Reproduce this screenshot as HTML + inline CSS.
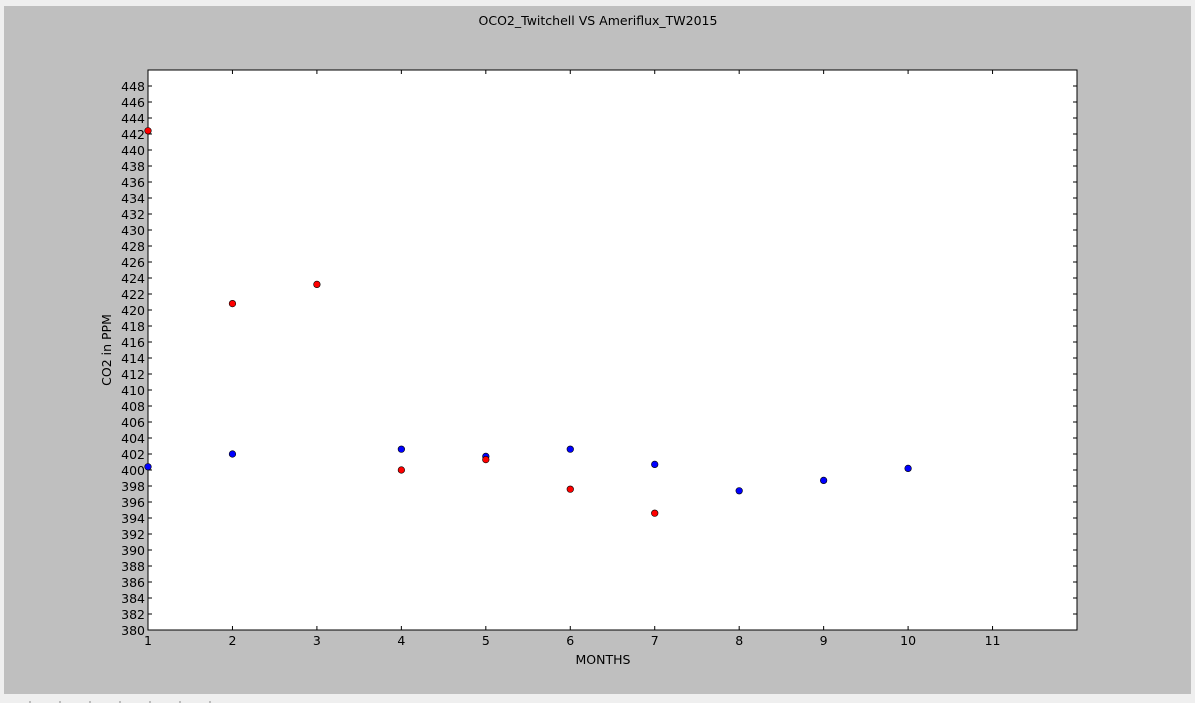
<!DOCTYPE html>
<html><head><meta charset="utf-8"><style>
body{margin:0;background:#efefef;width:1195px;height:703px;overflow:hidden;font-family:"DejaVu Sans","Liberation Sans",sans-serif}
svg{position:absolute;left:0;top:0}
</style></head><body>
<svg id="c" width="1195" height="703" font-family="DejaVu Sans, Liberation Sans, sans-serif">
<rect x="4" y="6" width="1187" height="688" fill="#bfbfbf"/>
<g stroke="#888">
<line x1="30" x2="30" y1="701" y2="703"/><line x1="60" x2="60" y1="701" y2="703"/><line x1="90" x2="90" y1="701" y2="703"/><line x1="120" x2="120" y1="701" y2="703"/><line x1="150" x2="150" y1="701" y2="703"/><line x1="180" x2="180" y1="701" y2="703"/><line x1="210" x2="210" y1="701" y2="703"/>
</g>
<rect x="148" y="70" width="929" height="560" fill="#fff" stroke="#000" stroke-width="1"/>
<text x="598" y="25" text-anchor="middle" font-size="12.5">OCO2_Twitchell VS Ameriflux_TW2015</text>
<text x="603" y="664" text-anchor="middle" font-size="12.5">MONTHS</text>
<text transform="translate(111,350) rotate(-90)" text-anchor="middle" font-size="12.5">CO2 in PPM</text>
<g id="ticks"></g><g id="pts"></g>
</svg>
<script>
const redMonths=[1,2,3,4,5,6,7];
const redValues=[442.4,420.8,423.2,400.0,401.3,397.6,394.6];
const blueMonths=[1,2,4,5,6,7,8,9,10];
const blueValues=[400.4,402.0,402.6,401.7,402.6,400.7,397.4,398.7,400.2];
const xTicks=[1,2,3,4,5,6,7,8,9,10,11];
const yTicks=[];for(let v=380;v<=448;v+=2)yTicks.push(v);
const X0=148,X1=1077,Y0=630,Y1=70,xmin=1,xmax=12,ymin=380,ymax=450;
const sx=v=>X0+(v-xmin)/(xmax-xmin)*(X1-X0);
const sy=v=>Y0-(v-ymin)/(ymax-ymin)*(Y0-Y1);
const NS="http://www.w3.org/2000/svg";
const tg=document.getElementById('ticks'),pg=document.getElementById('pts');
function mk(tag,a,p){const e=document.createElementNS(NS,tag);for(const k in a)e.setAttribute(k,a[k]);p.appendChild(e);return e;}
xTicks.forEach(v=>{const x=sx(v);
 let l=mk('line',{x1:x,x2:x,y1:Y0,y2:Y0-4,stroke:'#000'},tg);
 
 
 let l2=mk('line',{x1:x,x2:x,y1:Y1,y2:Y1+4,stroke:'#000'},tg);
 
 
 let t=mk('text',{x:x,y:Y0+15,'text-anchor':'middle','font-size':12.5},tg);t.textContent=v;
 
 });
yTicks.forEach(v=>{const y=sy(v);
 let l=mk('line',{x1:X0,x2:X0+4,y1:y,y2:y,stroke:'#000'},tg);
 
 
 let l2=mk('line',{x1:X1,x2:X1-4,y1:y,y2:y,stroke:'#000'},tg);
 
 
 let t=mk('text',{x:X0-3,y:y+5,'text-anchor':'end','font-size':12.5},tg);t.textContent=v;
 
 });
blueMonths.forEach((m,i)=>{let c=mk('circle',{cx:sx(m),cy:sy(blueValues[i]),r:3.3,fill:'#0000ff',stroke:'#000','stroke-width':0.6},pg);
 
 });
redMonths.forEach((m,i)=>{let c=mk('circle',{cx:sx(m),cy:sy(redValues[i]),r:3.3,fill:'#ff0000',stroke:'#000','stroke-width':0.6},pg);
 
 });
</script>
</body></html>
